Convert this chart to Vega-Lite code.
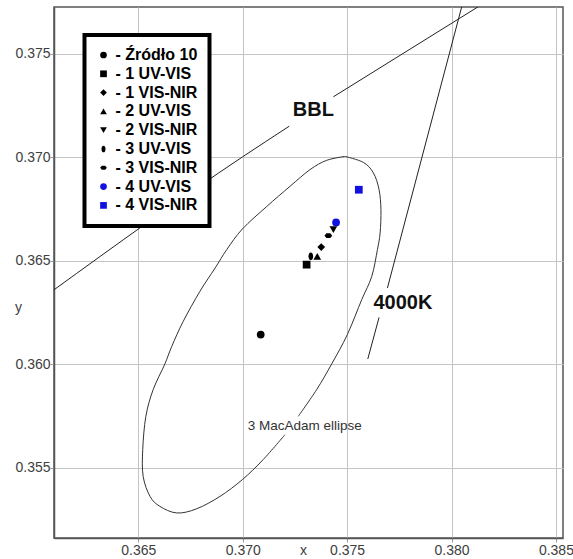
{
  "$schema": "https://vega.github.io/schema/vega-lite/v6.json",
  "width": 509,
  "height": 531,
  "autosize": "none",
  "padding": {"left": 54, "top": 7, "right": 10, "bottom": 21},
  "background": "white",
  "config": {
    "view": {"stroke": "#555555", "strokeWidth": 1.5},
    "font": "Liberation Sans",
    "axis": {
      "grid": true, "gridColor": "#c4c4c4", "gridWidth": 1,
      "domainColor": "#555555", "domainWidth": 1.5,
      "tickColor": "#999999", "tickSize": 4,
      "labelFont": "Liberation Sans", "labelFontSize": 14, "labelColor": "#404040",
      "titleFont": "Liberation Sans", "titleFontSize": 14, "titleFontWeight": "normal", "titleColor": "#404040"
    },
    "legend": {
      "orient": "none", "legendX": 30.5, "legendY": 28,
      "padding": 12, "rowPadding": 2.8,
      "strokeColor": "#000000", "strokeWidth": 4, "fillColor": "#ffffff",
      "labelFont": "Liberation Sans", "labelFontSize": 16, "labelFontWeight": "bold", "labelColor": "#000000",
      "labelOffset": 4, "symbolOffset": -1, "symbolSize": 45, "symbolStrokeWidth": 0,
      "zindex": 1
    }
  },
  "encoding": {
    "x": {"field": "x", "type": "quantitative",
      "scale": {"domain": [0.36096, 0.38534], "nice": false, "zero": false},
      "axis": {"values": [0.365, 0.37, 0.375, 0.38, 0.385], "format": ".3f", "title": "x",
        "titleX": 249, "titleY": 5, "titleBaseline": "top", "titleAlign": "center", "labelPadding": 1}},
    "y": {"field": "y", "type": "quantitative",
      "scale": {"domain": [0.3516, 0.37726], "nice": false, "zero": false},
      "axis": {"values": [0.355, 0.36, 0.365, 0.37, 0.375], "format": ".3f", "title": "y",
        "titleAngle": 0, "titleX": -36, "titleY": 300, "titleAlign": "center", "titleBaseline": "middle", "labelPadding": 0}}
  },
  "layer": [
    {
      "data": {"values": [
        {"seg": 1, "i": 1, "x": 0.37490, "y": 0.37004},
        {"seg": 1, "i": 2, "x": 0.37578, "y": 0.36975},
        {"seg": 1, "i": 3, "x": 0.37626, "y": 0.36924},
        {"seg": 1, "i": 4, "x": 0.37653, "y": 0.36843},
        {"seg": 1, "i": 5, "x": 0.37662, "y": 0.36746},
        {"seg": 1, "i": 6, "x": 0.37658, "y": 0.36634},
        {"seg": 1, "i": 7, "x": 0.37645, "y": 0.36553},
        {"seg": 1, "i": 8, "x": 0.37618, "y": 0.36424},
        {"seg": 1, "i": 9, "x": 0.37570, "y": 0.36312},
        {"seg": 1, "i": 10, "x": 0.37501, "y": 0.36143},
        {"seg": 1, "i": 11, "x": 0.37426, "y": 0.36001},
        {"seg": 1, "i": 12, "x": 0.37354, "y": 0.35877},
        {"seg": 1, "i": 13, "x": 0.37266, "y": 0.35748},
        {"seg": 2, "i": 14, "x": 0.37202, "y": 0.35659},
        {"seg": 2, "i": 15, "x": 0.37098, "y": 0.35539},
        {"seg": 2, "i": 16, "x": 0.36998, "y": 0.35442},
        {"seg": 2, "i": 17, "x": 0.36891, "y": 0.35361},
        {"seg": 2, "i": 18, "x": 0.36779, "y": 0.35301},
        {"seg": 2, "i": 19, "x": 0.36684, "y": 0.35281},
        {"seg": 2, "i": 20, "x": 0.36603, "y": 0.35313},
        {"seg": 2, "i": 21, "x": 0.36556, "y": 0.35361},
        {"seg": 2, "i": 22, "x": 0.36523, "y": 0.35458},
        {"seg": 2, "i": 23, "x": 0.36521, "y": 0.35587},
        {"seg": 2, "i": 24, "x": 0.36536, "y": 0.35748},
        {"seg": 2, "i": 25, "x": 0.36571, "y": 0.35877},
        {"seg": 2, "i": 26, "x": 0.36627, "y": 0.36001},
        {"seg": 2, "i": 27, "x": 0.36660, "y": 0.36086},
        {"seg": 2, "i": 28, "x": 0.36715, "y": 0.36207},
        {"seg": 2, "i": 29, "x": 0.36795, "y": 0.36352},
        {"seg": 2, "i": 30, "x": 0.36868, "y": 0.36465},
        {"seg": 2, "i": 31, "x": 0.36923, "y": 0.36553},
        {"seg": 2, "i": 32, "x": 0.36998, "y": 0.36653},
        {"seg": 2, "i": 33, "x": 0.37115, "y": 0.36762},
        {"seg": 2, "i": 34, "x": 0.37226, "y": 0.36859},
        {"seg": 2, "i": 35, "x": 0.37322, "y": 0.36940},
        {"seg": 2, "i": 36, "x": 0.37402, "y": 0.36985},
        {"seg": 2, "i": 37, "x": 0.37490, "y": 0.37004}
      ]},
      "mark": {"type": "line", "color": "#333333", "strokeWidth": 1, "interpolate": "cardinal", "clip": true},
      "encoding": {"order": {"field": "i", "type": "quantitative"}, "detail": {"field": "seg", "type": "nominal"}}
    },
    {
      "data": {"values": [
        {"seg": 1, "i": 1, "x": 0.36090, "y": 0.36355},
        {"seg": 1, "i": 2, "x": 0.36998, "y": 0.37001},
        {"seg": 1, "i": 3, "x": 0.37223, "y": 0.37150},
        {"seg": 2, "i": 4, "x": 0.37434, "y": 0.37292},
        {"seg": 2, "i": 5, "x": 0.37753, "y": 0.37492},
        {"seg": 2, "i": 6, "x": 0.38137, "y": 0.37733}
      ]},
      "mark": {"type": "line", "color": "#222222", "strokeWidth": 1, "interpolate": "monotone", "clip": true},
      "encoding": {"order": {"field": "i", "type": "quantitative"}, "detail": {"field": "seg", "type": "nominal"}}
    },
    {
      "data": {"values": [
        {"seg": 1, "i": 1, "x": 0.38051, "y": 0.37735},
        {"seg": 1, "i": 2, "x": 0.37693, "y": 0.36368},
        {"seg": 2, "i": 3, "x": 0.37653, "y": 0.36226},
        {"seg": 2, "i": 4, "x": 0.37599, "y": 0.36025}
      ]},
      "mark": {"type": "line", "color": "#222222", "strokeWidth": 1, "clip": true},
      "encoding": {"order": {"field": "i", "type": "quantitative"}, "detail": {"field": "seg", "type": "nominal"}}
    },
    {
      "data": {"values": [
        {"label": "BBL", "x": 0.37338, "y": 0.37226},
        {"label": "4000K", "x": 0.37767, "y": 0.36296}
      ]},
      "mark": {"type": "text", "font": "Liberation Sans", "fontSize": 20, "fontWeight": "bold", "color": "#111111", "align": "center", "baseline": "middle"},
      "encoding": {"text": {"field": "label", "type": "nominal"}}
    },
    {
      "data": {"values": [
        {"label": "3 MacAdam ellipse", "x": 0.37297, "y": 0.35703}
      ]},
      "mark": {"type": "text", "font": "Liberation Sans", "fontSize": 13.5, "color": "#333333", "align": "center", "baseline": "middle"},
      "encoding": {"text": {"field": "label", "type": "nominal"}}
    },
    {
      "data": {"values": [
        {"series": "Źródło 10", "x": 0.37086, "y": 0.36143},
        {"series": "1 UV-VIS", "x": 0.37306, "y": 0.36481},
        {"series": "1 VIS-NIR", "x": 0.37376, "y": 0.36566},
        {"series": "2 UV-VIS", "x": 0.37357, "y": 0.36521},
        {"series": "2 VIS-NIR", "x": 0.37434, "y": 0.36650},
        {"series": "3 UV-VIS", "x": 0.37326, "y": 0.36521},
        {"series": "3 VIS-NIR", "x": 0.37410, "y": 0.36621},
        {"series": "4 UV-VIS", "x": 0.37447, "y": 0.36685},
        {"series": "4 VIS-NIR", "x": 0.37556, "y": 0.36843}
      ]},
      "mark": {"type": "point", "filled": true, "size": 60, "opacity": 1},
      "encoding": {
        "shape": {"field": "series", "type": "nominal",
          "scale": {
            "domain": ["Źródło 10", "1 UV-VIS", "1 VIS-NIR", "2 UV-VIS", "2 VIS-NIR", "3 UV-VIS", "3 VIS-NIR", "4 UV-VIS", "4 VIS-NIR"],
            "range": ["circle", "square", "diamond", "triangle-up", "triangle-down", "M0,-1C0.8,-1,0.8,1,0,1C-0.8,1,-0.8,-1,0,-1Z", "M-1,0L-0.5,-0.6L0.5,-0.6L1,0L0.5,0.6L-0.5,0.6Z", "circle", "square"]},
          "legend": {"title": null, "labelExpr": "'- ' + datum.label"}},
        "color": {"field": "series", "type": "nominal",
          "scale": {
            "domain": ["Źródło 10", "1 UV-VIS", "1 VIS-NIR", "2 UV-VIS", "2 VIS-NIR", "3 UV-VIS", "3 VIS-NIR", "4 UV-VIS", "4 VIS-NIR"],
            "range": ["#000000", "#000000", "#000000", "#000000", "#000000", "#000000", "#000000", "#1010e0", "#1010e0"]},
          "legend": {"title": null, "labelExpr": "'- ' + datum.label"}}
      }
    }
  ]
}
